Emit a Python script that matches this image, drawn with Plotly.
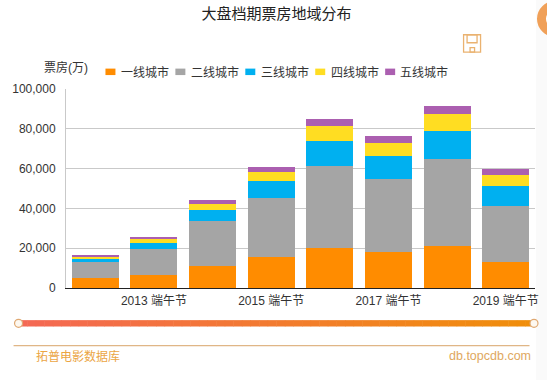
import plotly.graph_objects as go

W, H = 547, 380
categories = ["2012 端午节", "2013 端午节", "2014 端午节", "2015 端午节",
              "2016 端午节", "2017 端午节", "2018 端午节", "2019 端午节"]
tier1 = [4800, 6500, 11300, 15500, 20200, 18000, 21000, 13000]
tier2 = [8400, 13000, 22200, 29800, 41100, 37000, 44000, 28200]
tier3 = [1800, 3200, 5700, 8400, 12700, 11200, 14000, 10000]
tier4 = [1000, 2000, 3100, 4500, 7200, 6600, 8300, 5600]
tier5 = [300, 800, 1700, 2500, 3600, 3400, 4200, 3000]
series_names = ["一线城市", "二线城市", "三线城市", "四线城市", "五线城市"]
series_colors = ["#ff8c00", "#a5a5a5", "#00b0f0", "#ffdd22", "#ab5fb0"]
tick_labels = ["2013 端午节", "2015 端午节", "2017 端午节", "2019 端午节"]
y_ticks = [0, 20000, 40000, 60000, 80000, 100000]

FONT = "Liberation Sans, Noto Sans CJK SC, sans-serif"
L, R, T, B = 65.5, 535, 88.5, 288.5


def px(x):
    return (x - L) / (R - L)


def py(y):
    return (B - y) / (B - T)


def paper_shape(kind, x0, x1, y0, y1, **kw):
    return dict(type=kind, xref="paper", yref="paper",
                x0=px(x0), x1=px(x1), y0=py(y1), y1=py(y0), **kw)


fig = go.Figure()
for name, vals, col in zip(series_names, [tier1, tier2, tier3, tier4, tier5], series_colors):
    fig.add_bar(x=categories, y=vals, name=name, marker=dict(color=col, line_width=0))

# faint shade down the right edge
shapes = [paper_shape("rect", 536, 548, -1, 381, fillcolor="#fafafa", line_width=0, layer="below")]

# slider gradient
x0, x1 = 18, 534
n = 60
c0, c1 = (244, 104, 84), (240, 142, 10)
for i in range(n):
    t = i / (n - 1)
    c = tuple(round(a + (b - a) * t) for a, b in zip(c0, c1))
    shapes.append(paper_shape("rect", x0 + (x1 - x0) * i / n, x0 + (x1 - x0) * (i + 1) / n + 0.5,
                              320.8, 327.2, fillcolor=f"rgb{c}", line_width=0))
for cx in (x0, x1):
    shapes.append(paper_shape("circle", cx - 4, cx + 4, 320, 328,
                              fillcolor="#fdf8f0", line=dict(color="#dfa872", width=1.2)))
# footer rule
shapes.append(paper_shape("line", 13, 529.5, 346.5, 346.5, line=dict(color="#d8a468", width=1)))
# save icon
ic = dict(color="#eab270", width=1.3)
shapes.append(paper_shape("rect", 463.5, 480.5, 34, 51.5, line=ic))
shapes.append(paper_shape("rect", 467, 477, 34, 42, line=ic))
shapes.append(paper_shape("rect", 470, 474.5, 47, 51.5, line=ic))
# corner badge
shapes.append(paper_shape("circle", 541.5, 568.5, 4.5, 31.5, fillcolor="#fff",
                          line=dict(color="#f0a058", width=9)))

annotations = [
    dict(text="票房(万)", x=px(43), y=py(67), xanchor="left", yanchor="middle",
         font=dict(size=12, color="#333")),
    dict(text="拓普电影数据库", x=px(35), y=py(357), xanchor="left", yanchor="middle",
         font=dict(size=12, color="#eba544")),
    dict(text="db.topcdb.com", x=px(531), y=py(357), xanchor="right", yanchor="middle",
         font=dict(size=12.5, color="#e0a860")),
]
# legend row, drawn by hand to keep the tight swatch-to-label gap
for i, (name, col) in enumerate(zip(series_names, series_colors)):
    sx = 105 + 70 * i
    shapes.append(paper_shape("rect", sx, sx + 10, 68, 74.5, fillcolor=col, line_width=0))
    annotations.append(dict(text=name, x=px(sx + 15.3), y=py(71.5), xanchor="left", yanchor="middle",
                            font=dict(size=12, color="#333")))
for a in annotations:
    a.update(xref="paper", yref="paper", showarrow=False, xshift=0, borderpad=0, borderwidth=0)

fig.update_layout(
    width=W, height=H, autosize=False,
    margin=dict(l=L, r=W - R, t=T, b=H - B, pad=0),
    paper_bgcolor="white", plot_bgcolor="white",
    barmode="stack", bargap=0.2, showlegend=False,
    font=dict(family=FONT, size=12, color="#333"),
    title=dict(text="大盘档期票房地域分布", x=276.5 / W, xanchor="center", xref="container",
               y=1 - 14 / H, yanchor="middle", yref="container", font=dict(size=15, color="#222")),
    xaxis=dict(type="category", categoryorder="array", categoryarray=categories, automargin=False,
               tickmode="array", tickvals=categories[1::2], ticktext=tick_labels,
               showgrid=False, zeroline=False, showline=True, linecolor="#222", linewidth=1,
               ticks="", tickangle=0, ticklabelstandoff=2, tickfont=dict(size=12, color="#333")),
    yaxis=dict(range=[0, 100000], tickmode="array", tickvals=y_ticks, tickformat=",", automargin=False,
               showgrid=True, gridcolor="#c9c9c9", gridwidth=1, zeroline=False,
               showline=True, linecolor="#c9c9c9", linewidth=1, ticks="",
               ticklabelstandoff=7, tickfont=dict(size=12, color="#333")),
    shapes=shapes, annotations=annotations,
)
fig.write_html("out.html", config=dict(displayModeBar=False),
               post_script="document.body.style.margin='0';document.documentElement.style.overflow='hidden';")
